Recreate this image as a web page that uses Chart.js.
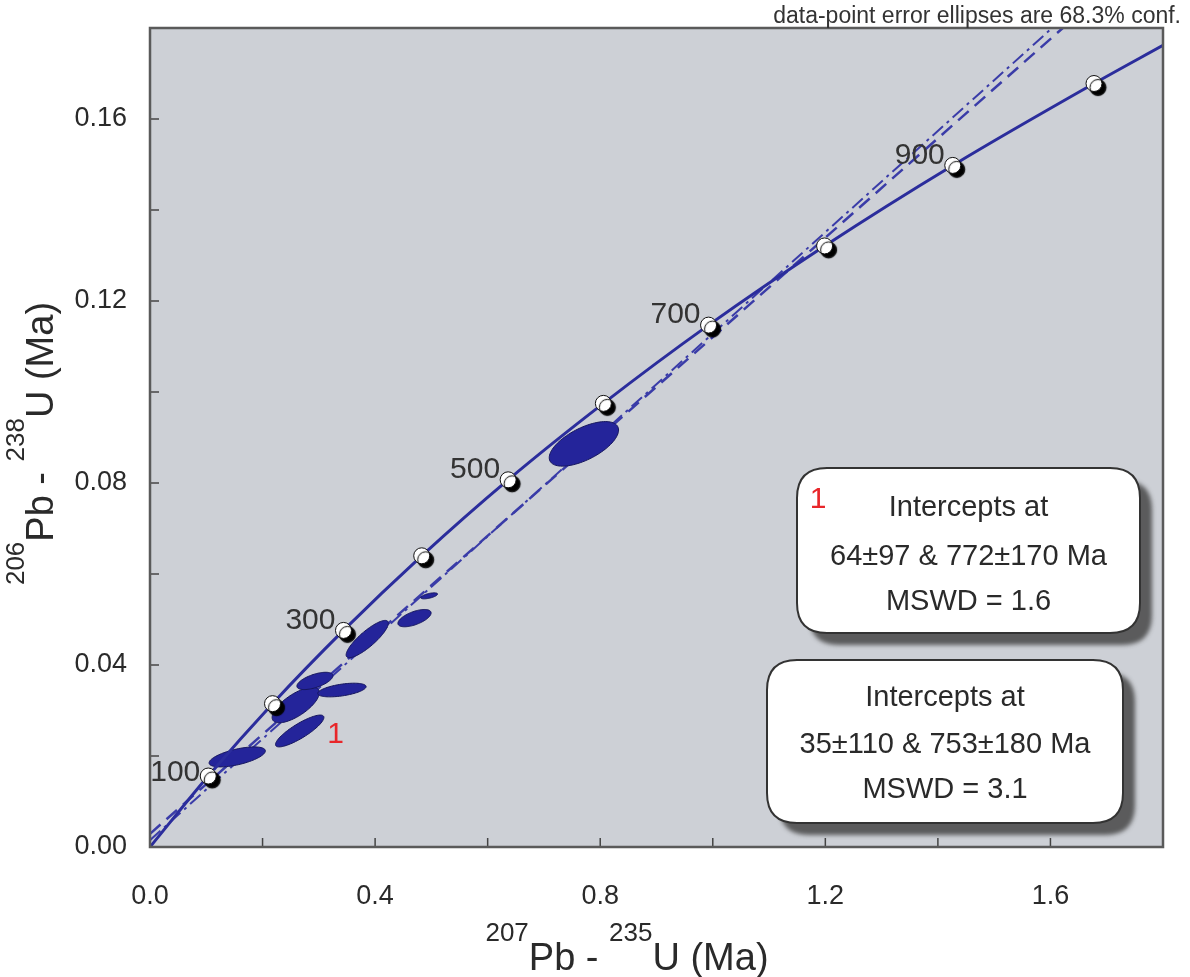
<!DOCTYPE html>
<html>
<head>
<meta charset="utf-8">
<script src="https://cdn.jsdelivr.net/npm/chart.js@4.4.1/dist/chart.umd.min.js"></script>
<style>
  html, body { margin: 0; padding: 0; background: #fff; }
  #wrap { width: 1190px; height: 977px; }
</style>
</head>
<body>
<div id="wrap"><canvas id="concordiaChart" width="1190" height="977"></canvas></div>
<script>
// ages marked on the concordia (Ma) and their positions
const concordiaAges = [100, 200, 300, 400, 500, 600, 700, 800, 900, 1000];
const concordiaX = [0.1035, 0.2177, 0.3438, 0.4828, 0.6364, 0.8056, 0.9925, 1.1987, 1.4264, 1.6774];
const concordiaY = [0.0156, 0.0315, 0.0476, 0.0640, 0.0807, 0.0975, 0.1147, 0.1321, 0.1498, 0.1678];
const ageLabels = ['100', '', '300', '', '500', '', '700', '', '900', ''];
const curveStart = { x: 0, y: 0 };
const curveEnd = { x: 1.8, y: 0.1762 };

// the two discordia lines
const discordia1X = [0, 1.622];
const discordia1Y = [0.0029, 0.18];
const discordia2X = [0, 1.603];
const discordia2Y = [0.0015, 0.18];

// error ellipses: centre, 1 sigma x / y, correlation
const ellipseX = [0.155, 0.259, 0.293, 0.341, 0.266, 0.386, 0.470, 0.496, 0.771];
const ellipseY = [0.0198, 0.0312, 0.0365, 0.0345, 0.0255, 0.0457, 0.0503, 0.0552, 0.0886];
const ellipseSx = [0.050, 0.042, 0.032, 0.043, 0.043, 0.0375, 0.0295, 0.015, 0.0616];
const ellipseSy = [0.0022, 0.0039, 0.0019, 0.0015, 0.0035, 0.0041, 0.0019, 0.00066, 0.0049];
const ellipseRho = [0.6, 0.7, 0.6, 0.5, 0.85, 0.85, 0.6, 0.6, 0.62];

// axis ticks
const xTickLabels = ['0.0', '0.4', '0.8', '1.2', '1.6'];
const xMinorTicks = [0.2, 0.6, 1.0, 1.4];
const yTickLabels = ['0.00', '0.04', '0.08', '0.12', '0.16'];
const yMinorTicks = [0.02, 0.06, 0.10, 0.14];

// texts
const xTitleParts = [['207', true], ['Pb - ', false], ['235', true], ['U (Ma)', false]];
const yTitleParts = [['206', true], ['Pb - ', false], ['238', true], ['U (Ma)', false]];
const noteText = 'data-point error ellipses are 68.3% conf.';
const box1Lines = ['Intercepts at', '64±97 & 772±170 Ma', 'MSWD = 1.6'];
const box2Lines = ['Intercepts at', '35±110 & 753±180 Ma', 'MSWD = 3.1'];
const groupLabel = '1';
const groupLabelPos = { x: 0.330, y: 0.0246 };

const FONT = "'Liberation Sans', Arial, sans-serif";
const BLUE = '#2b2d9c';

function pts(xs, ys) {
    return xs.map((v, i) => ({ x: v, y: ys[i] }));
}

function setTicks(labels, minor) {
    return scale => {
        const vals = labels.map(parseFloat).concat(minor).sort((a, b) => a - b);
        scale.ticks = vals.map(v => ({ value: v }));
    };
}

function tickText(labels) {
    return value => {
        const hit = labels.find(l => Math.abs(parseFloat(l) - value) < 1e-9);
        return hit || '';
    };
}

function drawEllipses(chart) {
    const { ctx, scales: { x, y } } = chart;
    ctx.save();
    ctx.fillStyle = '#24249a';
    ctx.strokeStyle = '#16165e';
    ctx.lineWidth = 1;
    for (let i = 0; i < ellipseX.length; i++) {
        const r = ellipseRho[i];
        const k = Math.sqrt(1 - r * r);
        ctx.beginPath();
        for (let s = 0; s <= 90; s++) {
            const t = s / 90 * 2 * Math.PI;
            const px = x.getPixelForValue(ellipseX[i] + ellipseSx[i] * Math.cos(t));
            const py = y.getPixelForValue(ellipseY[i] + ellipseSy[i] * (r * Math.cos(t) + k * Math.sin(t)));
            if (s === 0) ctx.moveTo(px, py); else ctx.lineTo(px, py);
        }
        ctx.closePath();
        ctx.fill();
        ctx.stroke();
    }
    ctx.restore();
}

function drawSupText(ctx, parts, cx, cy, rot) {
    const big = 38, small = 26, raise = 29;
    let w = 0;
    parts.forEach(p => {
        ctx.font = (p[1] ? small : big) + 'px ' + FONT;
        w += ctx.measureText(p[0]).width;
    });
    ctx.save();
    ctx.translate(cx, cy);
    ctx.rotate(rot);
    ctx.fillStyle = '#2a2a2a';
    ctx.textBaseline = 'alphabetic';
    ctx.textAlign = 'left';
    let x = -w / 2;
    parts.forEach(p => {
        ctx.font = (p[1] ? small : big) + 'px ' + FONT;
        ctx.fillText(p[0], x, p[1] ? -raise : 0);
        x += ctx.measureText(p[0]).width;
    });
    ctx.restore();
}

function roundBox(ctx, x, y, w, h, r) {
    ctx.beginPath();
    ctx.moveTo(x + r, y);
    ctx.lineTo(x + w - r, y);
    ctx.quadraticCurveTo(x + w, y, x + w, y + r);
    ctx.lineTo(x + w, y + h - r);
    ctx.quadraticCurveTo(x + w, y + h, x + w - r, y + h);
    ctx.lineTo(x + r, y + h);
    ctx.quadraticCurveTo(x, y + h, x, y + h - r);
    ctx.lineTo(x, y + r);
    ctx.quadraticCurveTo(x, y, x + r, y);
    ctx.closePath();
}

function drawBox(ctx, x, y, w, h, lines, lineYs) {
    ctx.save();
    ctx.shadowColor = 'rgba(70,70,70,0.85)';
    ctx.shadowOffsetX = 12;
    ctx.shadowOffsetY = 12;
    ctx.shadowBlur = 4;
    roundBox(ctx, x, y, w, h, 30);
    ctx.fillStyle = '#ffffff';
    ctx.fill();
    ctx.restore();
    ctx.save();
    roundBox(ctx, x, y, w, h, 30);
    ctx.strokeStyle = '#333';
    ctx.lineWidth = 2;
    ctx.stroke();
    ctx.fillStyle = '#2a2a2a';
    ctx.font = '29px ' + FONT;
    ctx.textAlign = 'center';
    ctx.textBaseline = 'middle';
    lines.forEach((t, i) => ctx.fillText(t, x + w / 2, y + lineYs[i]));
    ctx.restore();
}

const decor = {
    id: 'decor',
    beforeDraw(chart) {
        const { ctx, chartArea: a } = chart;
        ctx.save();
        ctx.fillStyle = '#cdd0d6';
        ctx.fillRect(a.left, a.top, a.right - a.left, a.bottom - a.top);
        ctx.restore();
    },
    beforeDatasetDraw(chart, args) {
        if (args.index === 1) drawEllipses(chart);
        if (args.index === 0) {
            chart.ctx.save();
            chart.ctx.shadowColor = '#000';
            chart.ctx.shadowOffsetX = 4;
            chart.ctx.shadowOffsetY = 4;
            chart.ctx.shadowBlur = 1;
        }
    },
    afterDatasetDraw(chart, args) {
        if (args.index === 0) chart.ctx.restore();
    },
    afterDatasetsDraw(chart) {
        const { ctx, chartArea: a, scales: { x, y } } = chart;
        ctx.save();
        // inward ticks
        ctx.strokeStyle = '#444';
        ctx.lineWidth = 1.5;
        x.ticks.forEach(t => {
            const px = x.getPixelForValue(t.value);
            ctx.beginPath(); ctx.moveTo(px, a.bottom); ctx.lineTo(px, a.bottom - 9); ctx.stroke();
        });
        y.ticks.forEach(t => {
            const py = y.getPixelForValue(t.value);
            ctx.beginPath(); ctx.moveTo(a.left, py); ctx.lineTo(a.left + 9, py); ctx.stroke();
        });
        // frame
        ctx.strokeStyle = '#5a5a5a';
        ctx.lineWidth = 2.5;
        ctx.strokeRect(a.left, a.top, a.right - a.left, a.bottom - a.top);

        // age labels on the concordia
        const meta = chart.getDatasetMeta(0);
        ctx.fillStyle = '#333';
        ctx.font = '30px ' + FONT;
        ctx.textAlign = 'right';
        ctx.textBaseline = 'middle';
        meta.data.forEach((p, i) => {
            if (ageLabels[i]) ctx.fillText(ageLabels[i], p.x - 8, p.y - (i === 0 ? 3 : 10));
        });

        // group label
        ctx.fillStyle = '#e8262a';
        ctx.textAlign = 'center';
        ctx.fillText(groupLabel, x.getPixelForValue(groupLabelPos.x), y.getPixelForValue(groupLabelPos.y));
        ctx.restore();

        // result boxes
        drawBox(ctx, a.left + 647, a.top + 440, 343, 165, box1Lines, [40, 89, 134]);
        ctx.save();
        ctx.fillStyle = '#e8262a';
        ctx.font = '30px ' + FONT;
        ctx.textAlign = 'center';
        ctx.textBaseline = 'middle';
        ctx.fillText(groupLabel, a.left + 668, a.top + 472);
        ctx.restore();
        drawBox(ctx, a.left + 617, a.top + 632, 356, 163, box2Lines, [38, 85, 130]);
    },
    afterDraw(chart) {
        const { ctx, chartArea: a } = chart;
        drawSupText(ctx, xTitleParts, 627, 970, 0);
        drawSupText(ctx, yTitleParts, 53, (a.top + a.bottom) / 2 + 6, -Math.PI / 2);
        ctx.save();
        ctx.fillStyle = '#333';
        ctx.font = '23px ' + FONT;
        ctx.textAlign = 'right';
        ctx.textBaseline = 'alphabetic';
        ctx.fillText(noteText, 1181, 23);
        ctx.restore();
    }
};

new Chart(document.getElementById('concordiaChart'), {
    type: 'scatter',
    data: {
        datasets: [{
            label: 'Concordia ages',
            data: pts(concordiaX, concordiaY),
            showLine: false,
            pointRadius: 8,
            pointBackgroundColor: '#ffffff',
            pointBorderColor: '#111',
            pointBorderWidth: 1
        }, {
            label: 'Concordia',
            data: [curveStart].concat(pts(concordiaX, concordiaY), [curveEnd]),
            showLine: true,
            pointRadius: 0,
            borderColor: BLUE,
            borderWidth: 3,
            cubicInterpolationMode: 'monotone'
        }, {
            label: 'Discordia 1',
            data: pts(discordia1X, discordia1Y),
            showLine: true,
            pointRadius: 0,
            borderColor: '#3a3ca8',
            borderWidth: 2.5,
            borderDash: [14, 8]
        }, {
            label: 'Discordia 2',
            data: pts(discordia2X, discordia2Y),
            showLine: true,
            pointRadius: 0,
            borderColor: '#3a3ca8',
            borderWidth: 2,
            borderDash: [14, 5, 3, 5]
        }]
    },
    options: {
        responsive: false,
        animation: false,
        devicePixelRatio: 1,
        events: [],
        layout: { padding: { top: 28, right: 27, left: 0, bottom: 0 } },
        plugins: {
            legend: { display: false },
            tooltip: { enabled: false }
        },
        scales: {
            x: {
                type: 'linear',
                min: 0,
                max: 1.8,
                afterBuildTicks: setTicks(xTickLabels, xMinorTicks),
                afterFit: s => { s.height = 130; s.paddingLeft = 0; s.paddingRight = 0; },
                grid: { display: false, drawTicks: false },
                border: { display: false },
                ticks: {
                    autoSkip: false,
                    maxRotation: 0,
                    padding: 33,
                    color: '#2a2a2a',
                    font: { family: FONT, size: 27 },
                    callback: tickText(xTickLabels)
                }
            },
            y: {
                type: 'linear',
                min: 0,
                max: 0.18,
                afterBuildTicks: setTicks(yTickLabels, yMinorTicks),
                afterFit: s => { s.width = 150; s.paddingTop = 0; s.paddingBottom = 0; },
                grid: { display: false, drawTicks: false },
                border: { display: false },
                ticks: {
                    autoSkip: false,
                    padding: 23,
                    color: '#2a2a2a',
                    font: { family: FONT, size: 27 },
                    callback: tickText(yTickLabels)
                }
            }
        }
    },
    plugins: [decor]
});
</script>
</body>
</html>
